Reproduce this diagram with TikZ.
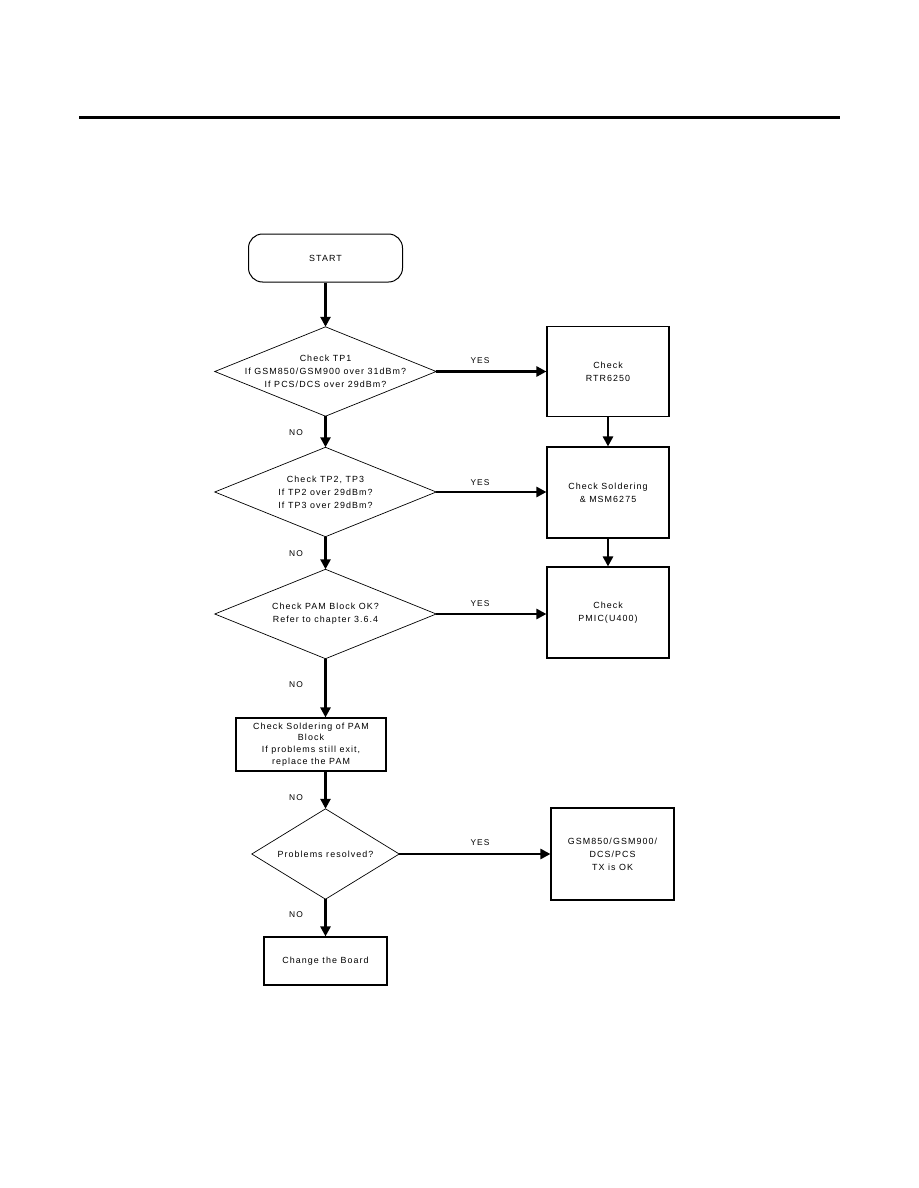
\documentclass[tikz,border=0pt]{standalone}
\usepackage{fontspec}
\setmainfont{Liberation Sans}[LetterSpace=12]
\usetikzlibrary{arrows.meta}
\begin{document}
\begin{tikzpicture}[x=1pt,y=-1pt,
  every node/.style={font=\fontsize{8.9}{13}\selectfont, align=center, inner sep=0pt, text=black},
  box/.style={draw=black, line width=1.1pt, minimum width=#1},
  dbox/.style={minimum width=221pt, minimum height=89pt},
  dia/.style={draw, line width=0.7pt},
  flow/.style={line width=2.6pt, -{Triangle[length=10pt,width=10pt]}},
  lbl/.style={font=\fontsize{8.4}{9}\selectfont}]
\useasboundingbox (0,0) rectangle (918,1188);
\draw[line width=3.6pt] (79,117.5) -- (840,117.5);
% start
\node[draw=black, line width=1pt, rounded corners=14pt, minimum width=154pt, minimum height=48pt] (start) at (325.5,258) {START};
% diamonds
\node[dbox] (d1) at (325.5,371.5) {Check TP1\\If GSM850/GSM900 over 31dBm?\\If PCS/DCS over 29dBm?};
\node[dbox] (d2) at (325.5,492) {Check TP2, TP3\\If TP2 over 29dBm?\\If TP3 over 29dBm?};
\node[dbox] (d3) at (325.5,614) {Check PAM Block OK?\\Refer to chapter 3.6.4};
\node[minimum width=147pt, minimum height=90pt] (d4) at (325.5,854) {Problems resolved?};
\foreach \d in {d1,d2,d3,d4}
  \draw[dia] (\d.north) -- (\d.east) -- (\d.south) -- (\d.west) -- cycle;
% right boxes
\node[box=122pt, minimum height=90pt] (b1) at (608,371.5) {Check\\RTR6250};
\node[box=122pt, minimum height=91pt] (b2) at (608,492.5) {Check Soldering\\\& MSM6275};
\node[box=122pt, minimum height=91pt] (b3) at (608,612.5) {Check\\PMIC(U400)};
\node[box=123pt, minimum height=92pt] (b5) at (612.5,854) {GSM850/GSM900/\\DCS/PCS\\TX is OK};
% left boxes
\node[box=150pt, minimum height=53pt, font=\fontsize{8.9}{11.8}\selectfont] (b4) at (311,744.5) {Check Soldering of PAM\\Block\\If problems still exit,\\replace the PAM};
\node[box=123pt, minimum height=48pt] (b6) at (325.5,961) {Change the Board};
% connectors
\draw[flow] (start.south) -- (d1.north);
\draw[flow] (d1.east) -- (d1.east -| b1.west);
\draw[flow] (b1.south) -- (b2.north);
\draw[flow] (d1.south) -- (d2.north);
\draw[flow] (d2.east) -- (d2.east -| b2.west);
\draw[flow] (b2.south) -- (b3.north);
\draw[flow] (d2.south) -- (d3.north);
\draw[flow] (d3.east) -- (d3.east -| b3.west);
\draw[flow] (d3.south) -- (d3.south |- b4.north);
\draw[flow] (d3.south |- b4.south) -- (d4.north);
\draw[flow] (d4.east) -- (b5.west);
\draw[flow] (d4.south) -- (b6.north);
% labels
\node[lbl] (y1) at (480,361) {YES};
\node[lbl] (y2) at (480,483) {YES};
\node[lbl] (y3) at (480,604) {YES};
\node[lbl] (y4) at (480,843) {YES};
\node[lbl] (n1) at (296,433) {NO};
\node[lbl] (n2) at (296,554) {NO};
\node[lbl] (n3) at (296,685) {NO};
\node[lbl] (n4) at (296,798) {NO};
\node[lbl] (n5) at (296,915) {NO};
\end{tikzpicture}
\end{document}
